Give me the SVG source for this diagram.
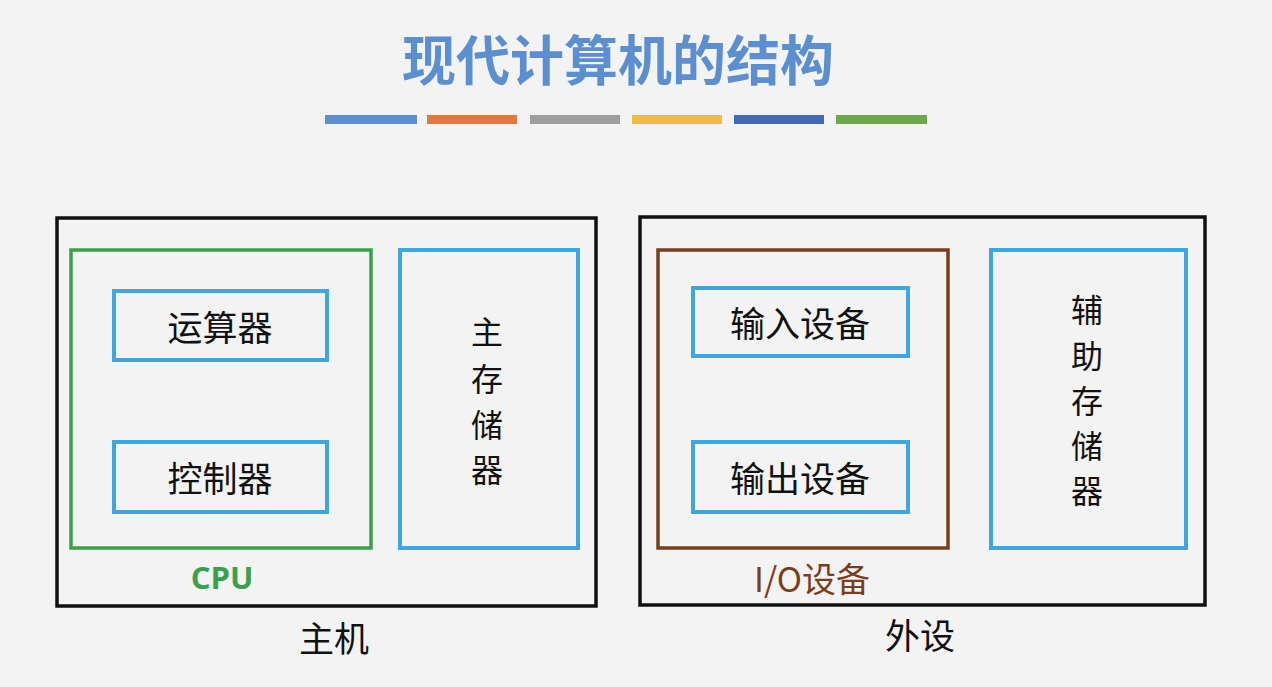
<svg xmlns="http://www.w3.org/2000/svg" width="1272" height="687" viewBox="0 0 1272 687">
<style>
text{font-family:"Noto Sans CJK SC","Noto Sans",sans-serif;text-anchor:middle;dominant-baseline:central}
.t{font-size:35px;fill:#111}
.v{font-size:32px;fill:#111}
.b{fill:none;stroke:#3ea6e2;stroke-width:4}
.o{fill:none;stroke:#111;stroke-width:3.5}
</style>
<rect width="1272" height="687" fill="#f3f3f3"/>
<text x="618" y="57" style="font-size:54px;fill:#5b8fd0;font-weight:bold">现代计算机的结构</text>
<g>
<rect x="325" y="115" width="92" height="9" fill="#5b8fd0"/>
<rect x="427" y="115" width="90" height="9" fill="#e07a3e"/>
<rect x="530" y="115" width="90" height="9" fill="#9e9e9e"/>
<rect x="632" y="115" width="90" height="9" fill="#f2bc3c"/>
<rect x="734" y="115" width="90" height="9" fill="#4468b8"/>
<rect x="836" y="115" width="91" height="9" fill="#6ea84a"/>
</g>
<g id="host"><rect class="o" x="57" y="218" width="539" height="388"/><text class="t" x="334" y="636">主机</text></g>
<g id="cpu"><rect x="71" y="250" width="300" height="298" fill="none" stroke="#3aa04a" stroke-width="3.5"/><text x="222" y="577" style="font-size:31px;fill:#3aa04a;font-weight:bold;font-family:'Open Sans',sans-serif">CPU</text></g>
<g id="alu"><rect class="b" x="114" y="291" width="213" height="69"/><text class="t" x="220" y="325">运算器</text></g>
<g id="cu"><rect class="b" x="114" y="442" width="213" height="70"/><text class="t" x="220" y="476">控制器</text></g>
<g id="mem"><rect class="b" x="400" y="250" width="178" height="298"/>
<text class="v" x="487" y="330">主</text><text class="v" x="487" y="377">存</text><text class="v" x="487" y="423">储</text><text class="v" x="487" y="468">器</text></g>
<g id="peri"><rect class="o" x="640" y="217" width="565" height="388"/><text class="t" x="920" y="633">外设</text></g>
<g id="io"><rect x="658" y="250" width="290" height="298" fill="none" stroke="#7a3f1a" stroke-width="3.5"/><text x="812" y="577" style="font-size:34px;fill:#7a3f1a">I/O设备</text></g>
<g id="in"><rect class="b" x="693" y="288" width="215" height="68"/><text class="t" x="800" y="321">输入设备</text></g>
<g id="out"><rect class="b" x="693" y="442" width="215" height="70"/><text class="t" x="800" y="476">输出设备</text></g>
<g id="aux"><rect class="b" x="991" y="250" width="195" height="298"/>
<text class="v" x="1087" y="308">辅</text><text class="v" x="1087" y="354">助</text><text class="v" x="1087" y="399">存</text><text class="v" x="1087" y="444">储</text><text class="v" x="1087" y="489">器</text></g>
<g id="connectors"></g>
</svg>
